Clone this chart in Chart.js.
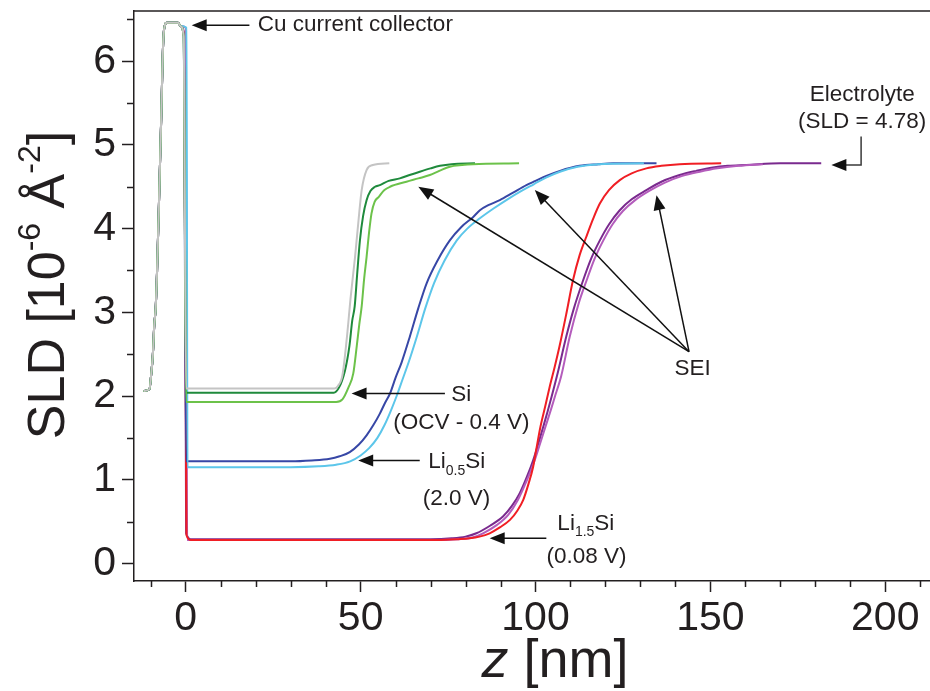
<!DOCTYPE html>
<html>
<head>
<meta charset="utf-8">
<title>SLD profiles</title>
<script src="https://cdn.jsdelivr.net/npm/chart.js@4.4.1/dist/chart.umd.min.js"></script>
<style>
    html, body { margin: 0; padding: 0; background: #fff; }
    #box { width: 930px; height: 691px; }
</style>
</head>
<body>
<div id="box"><canvas id="appChart"></canvas></div>
<script>
// DATA (z in nm, SLD in 10^-6 A^-2)
// copper current collector, shared by every profile
const cuZ = [-12.1, -10.4, -9.9, -9.4, -9.0, -8.6, -8.2, -7.6, -7.0, -6.6, -6.2, -5.4, -2.2, -1.5];
const cuSld = [2.06, 2.08, 2.25, 2.5, 2.85, 3.05, 3.5, 4.4, 5.35, 6.05, 6.38, 6.46, 6.46, 6.42];

// Si (OCV)
const siOcvZ = [-0.6, 0.1, 42.5, 43.5, 44.8, 46.0, 47.2, 48.4, 49.4, 50.3, 51.7, 53.5, 58.2];
const siOcvSld = [6.3, 2.09, 2.09, 2.12, 2.25, 2.67, 3.2, 3.66, 4.1, 4.46, 4.70, 4.76, 4.78];
// Si (0.4 V), dark green
const si04aZ = [-0.6, 0.1, 42.3, 43.8, 45.5, 46.8, 47.6, 48.3, 49.0, 49.8, 50.7, 51.7, 52.8, 54.1, 55.5, 58.0, 61.2, 64.0, 66.9, 70.0, 72.7, 76.0, 82.7];
const si04aSld = [6.3, 2.04, 2.04, 2.1, 2.3, 2.6, 2.9, 3.07, 3.45, 3.86, 4.15, 4.34, 4.45, 4.50, 4.52, 4.57, 4.60, 4.64, 4.68, 4.72, 4.75, 4.77, 4.78];
// Si (0.4 V), light green
const si04bZ = [-0.6, 0.1, 43.0, 44.8, 46.5, 47.9, 48.9, 49.6, 50.3, 51.0, 51.7, 52.4, 53.1, 54.0, 55.2, 56.8, 58.4, 63.1, 66.5, 69.8, 72.5, 75.5, 79.0, 82.2, 95.3];
const si04bSld = [6.3, 1.93, 1.93, 1.96, 2.1, 2.27, 2.6, 2.85, 3.07, 3.4, 3.66, 3.95, 4.18, 4.32, 4.38, 4.46, 4.50, 4.56, 4.60, 4.64, 4.69, 4.74, 4.76, 4.77, 4.78];
// Li0.5Si (2.0 V), dark blue
const li05aZ = [-0.6, 0.1, 30.0, 36.0, 41.2, 44.0, 46.9, 49.5, 51.7, 53.6, 55.5, 57.0, 58.4, 60.0, 61.7, 64.0, 66.5, 68.9, 72.0, 75.5, 78.8, 82.2, 84.1, 86.5, 89.8, 93.6, 97.4, 100.0, 103.1, 107.0, 112.6, 118.0, 122.2, 134.6];
const li05aSld = [6.3, 1.22, 1.22, 1.23, 1.25, 1.28, 1.33, 1.42, 1.53, 1.65, 1.79, 1.92, 2.03, 2.22, 2.4, 2.7, 3.05, 3.35, 3.62, 3.86, 4.02, 4.14, 4.22, 4.28, 4.34, 4.43, 4.52, 4.57, 4.63, 4.69, 4.75, 4.77, 4.78, 4.78];
// Li0.5Si (2.0 V), light blue
const li05bZ = [0.2, 0.5, 30.0, 38.0, 43.0, 47.0, 50.0, 52.5, 54.8, 56.8, 58.6, 60.3, 62.0, 63.7, 66.0, 68.5, 71.0, 74.0, 77.5, 80.5, 84.0, 88.0, 92.0, 96.0, 99.5, 103.0, 107.0, 112.0, 118.0, 131.0];
const li05bSld = [6.4, 1.15, 1.15, 1.16, 1.18, 1.22, 1.29, 1.38, 1.5, 1.65, 1.82, 2.0, 2.2, 2.4, 2.7, 3.05, 3.35, 3.62, 3.86, 4.0, 4.12, 4.24, 4.35, 4.45, 4.53, 4.61, 4.68, 4.74, 4.77, 4.78];
// Li1.5Si (0.08 V), red
const li15aZ = [-0.5, 0.2, 1.5, 72.0, 78.0, 81.2, 84.0, 86.9, 89.8, 92.7, 94.8, 96.5, 98.0, 99.3, 100.3, 101.4, 102.8, 104.0, 105.5, 106.9, 108.8, 110.7, 112.6, 114.5, 116.5, 118.4, 121.0, 124.1, 127.5, 131.7, 136.0, 141.2, 153.1];
const li15aSld = [6.3, 0.34, 0.28, 0.28, 0.29, 0.30, 0.32, 0.36, 0.43, 0.52, 0.63, 0.76, 0.95, 1.15, 1.38, 1.63, 1.88, 2.1, 2.35, 2.6, 2.98, 3.38, 3.68, 3.90, 4.12, 4.30, 4.46, 4.58, 4.66, 4.72, 4.75, 4.77, 4.78];
// Li1.5Si (0.08 V), light purple
const li15bZ = [0.0, 0.4, 70.0, 78.0, 82.0, 85.0, 89.0, 92.2, 95.0, 97.3, 99.5, 101.3, 102.9, 104.5, 105.6, 107.3, 109.8, 112.3, 114.6, 117.0, 119.4, 122.0, 125.0, 128.5, 132.5, 137.0, 142.0, 147.0, 152.0, 158.0, 165.0];
const li15bSld = [6.4, 0.28, 0.28, 0.29, 0.31, 0.36, 0.46, 0.58, 0.76, 0.97, 1.2, 1.43, 1.64, 1.85, 2.0, 2.23, 2.71, 3.1, 3.38, 3.65, 3.86, 4.05, 4.21, 4.34, 4.45, 4.55, 4.63, 4.68, 4.72, 4.75, 4.77];
// Li1.5Si (0.08 V), purple
const li15cZ = [-0.4, 0.1, 1.7, 70.0, 76.0, 80.0, 83.1, 87.0, 90.7, 93.3, 95.5, 97.5, 99.3, 100.8, 102.2, 103.5, 104.6, 106.2, 108.8, 111.0, 113.6, 116.0, 118.4, 121.0, 124.1, 127.5, 131.7, 136.0, 141.2, 146.0, 150.7, 155.0, 160.3, 170.0, 181.7];
const li15cSld = [6.3, 0.36, 0.29, 0.29, 0.30, 0.32, 0.36, 0.45, 0.56, 0.69, 0.84, 1.03, 1.23, 1.43, 1.63, 1.82, 1.99, 2.25, 2.71, 3.05, 3.38, 3.65, 3.86, 4.05, 4.22, 4.35, 4.46, 4.56, 4.64, 4.69, 4.73, 4.75, 4.76, 4.78, 4.78];

// axes
const xMin = -14.8, xMax = 212.8, xStep = 10, xLabelEvery = 50;
const yMin = -0.21, yMax = 6.6, yStep = 0.5, yLabelEvery = 1;

// annotations (data coordinates)
const arrows = [
    {path: [[18.2, 6.43], [1.7, 6.43]]},
    {path: [[74.1, 2.03], [47.4, 2.03]]},
    {path: [[66.9, 1.23], [49.3, 1.23]]},
    {path: [[103.1, 0.30], [86.9, 0.30]]},
    {path: [[143.9, 2.53], [66.5, 4.50]]},
    {path: [[143.9, 2.53], [99.8, 4.46]]},
    {path: [[143.9, 2.53], [134.6, 4.40]]},
    {path: [[193.1, 5.10], [193.1, 4.76], [184.6, 4.76]], color: '#3a3a3a'},
];
const notes = [
    {parts: [{t: 'Cu current collector'}], at: [20.6, 6.43], align: 'left'},
    {parts: [{t: 'Si'}], at: [78.8, 2.02]},
    {parts: [{t: '(OCV - 0.4 V)'}], at: [78.8, 1.68]},
    {parts: [{t: 'Li'}, {t: '0.5', sub: true}, {t: 'Si'}], at: [77.5, 1.21]},
    {parts: [{t: '(2.0 V)'}], at: [77.4, 0.77]},
    {parts: [{t: 'Li'}, {t: '1.5', sub: true}, {t: 'Si'}], at: [114.4, 0.47]},
    {parts: [{t: '(0.08 V)'}], at: [114.6, 0.075]},
    {parts: [{t: 'SEI'}], at: [144.9, 2.33]},
    {parts: [{t: 'Electrolyte'}], at: [193.4, 5.60]},
    {parts: [{t: '(SLD = 4.78)'}], at: [193.4, 5.28]},
];

// STYLE
const FONT = '"Liberation Sans", Arial, Helvetica, sans-serif';
const INK = '#231f20';

// HELPERS
function profile(z, sld) {
    const xs = cuZ.concat(z);
    const ys = cuSld.concat(sld);
    return xs.map((x, i) => ({x, y: ys[i]}));
}

function line(label, z, sld, color) {
    return {
        label,
        data: profile(z, sld),
        borderColor: color,
        borderWidth: 2,
        pointRadius: 0,
        fill: false,
        cubicInterpolationMode: 'monotone',
    };
}

/** Draw text made of plain / sub / sup / italic parts. */
function drawRich(ctx, parts, x, y, size, align) {
    const fontOf = (p) => {
        const s = (p.sub || p.sup) ? Math.round(size * 0.62) : size;
        return `${p.italic ? 'italic ' : ''}${s}px ${FONT}`;
    };
    let total = 0;
    const widths = parts.map((p) => {
        ctx.font = fontOf(p);
        const w = ctx.measureText(p.t).width;
        total += w;
        return w;
    });
    let cx = (align === 'left') ? x : x - total / 2;
    ctx.textAlign = 'left';
    ctx.textBaseline = 'middle';
    parts.forEach((p, i) => {
        ctx.font = fontOf(p);
        let dy = 0;
        if (p.sub) dy = size * 0.38;
        if (p.sup) dy = -size * 0.36;
        ctx.fillText(p.t, cx, y + dy);
        cx += widths[i];
    });
}

function drawArrow(ctx, pts, color) {
    const n = pts.length;
    const [tx, ty] = pts[n - 1];
    const [px, py] = pts[n - 2];
    const ang = Math.atan2(ty - py, tx - px);
    const head = 15, half = 6;
    ctx.save();
    ctx.strokeStyle = color;
    ctx.fillStyle = '#111';
    ctx.lineWidth = 1.5;
    ctx.beginPath();
    ctx.moveTo(pts[0][0], pts[0][1]);
    for (let i = 1; i < n - 1; i++) ctx.lineTo(pts[i][0], pts[i][1]);
    ctx.lineTo(tx - Math.cos(ang) * head * 0.8, ty - Math.sin(ang) * head * 0.8);
    ctx.stroke();
    ctx.beginPath();
    ctx.moveTo(tx, ty);
    ctx.lineTo(tx - Math.cos(ang) * head - Math.sin(ang) * half, ty - Math.sin(ang) * head + Math.cos(ang) * half);
    ctx.lineTo(tx - Math.cos(ang) * head + Math.sin(ang) * half, ty - Math.sin(ang) * head - Math.cos(ang) * half);
    ctx.closePath();
    ctx.fill();
    ctx.restore();
}

// PLUGINS
const decorPlugin = {
    id: 'decor',
    afterDraw(chart) {
        const {ctx, chartArea: a, scales: {x, y}} = chart;
        ctx.save();
        ctx.strokeStyle = INK;
        ctx.lineWidth = 1.5;
        // top frame
        ctx.beginPath();
        ctx.moveTo(a.left, a.top);
        ctx.lineTo(a.right, a.top);
        ctx.stroke();
        // minor ticks
        ctx.beginPath();
        x.ticks.forEach((t) => {
            if (Math.abs(t.value % xLabelEvery) < 1e-6) return;
            const px = Math.round(x.getPixelForValue(t.value)) + 0.5;
            ctx.moveTo(px, a.bottom);
            ctx.lineTo(px, a.bottom + 6);
        });
        y.ticks.forEach((t) => {
            if (Math.abs(t.value % yLabelEvery) < 1e-6) return;
            const py = Math.round(y.getPixelForValue(t.value)) + 0.5;
            ctx.moveTo(a.left - 7, py);
            ctx.lineTo(a.left, py);
        });
        ctx.stroke();
        // arrows
        arrows.forEach((ar) => {
            const pts = ar.path.map(([vx, vy]) => [x.getPixelForValue(vx), y.getPixelForValue(vy)]);
            drawArrow(ctx, pts, ar.color || '#111');
        });
        // notes
        ctx.fillStyle = INK;
        notes.forEach((n) => {
            drawRich(ctx, n.parts, x.getPixelForValue(n.at[0]), y.getPixelForValue(n.at[1]), 22.5, n.align);
        });
        // axis titles
        ctx.save();
        ctx.translate(a.left - 84, (a.top + a.bottom) / 2 - 11);
        ctx.rotate(-Math.PI / 2);
        drawRich(ctx, [{t: 'SLD [10'}, {t: '-6', sup: true}, {t: ' Å'}, {t: '-2', sup: true}, {t: ']'}], 0, 0, 52);
        ctx.restore();
        drawRich(ctx, [{t: 'z', italic: true}, {t: ' [nm]'}], 555, a.bottom + 81, 54);
        ctx.restore();
    }
};

// MAIN
Chart.defaults.font.family = FONT;
Chart.defaults.color = INK;

const datasets = [
    line('Si OCV', siOcvZ, siOcvSld, '#c4c4c4'),
    line('Si 0.4 V (a)', si04bZ, si04bSld, '#6cc24a'),
    line('Si 0.4 V (b)', si04aZ, si04aSld, '#1f8a3c'),
    line('Li0.5Si (b)', li05bZ, li05bSld, '#5cc6ea'),
    line('Li0.5Si (a)', li05aZ, li05aSld, '#3747a6'),
    line('Li1.5Si (a)', li15aZ, li15aSld, '#f01e24'),
    line('Li1.5Si (b)', li15bZ, li15bSld, '#b45cbc'),
    line('Li1.5Si (c)', li15cZ, li15cSld, '#7a2a8e'),
];

new Chart(document.getElementById('appChart'), {
    type: 'line',
    data: {datasets},
    options: {
        responsive: true,
        maintainAspectRatio: false,
        animation: false,
        layout: {padding: {left: 0, top: 11, right: 0, bottom: 0}},
        plugins: {legend: {display: false}, tooltip: {enabled: false}},
        scales: {
            x: {
                type: 'linear',
                min: xMin,
                max: xMax,
                afterFit: (s) => {
                    s.height = 110;
                    s.paddingLeft = 0;
                    s.paddingRight = 0;
                },
                border: {color: INK, width: 1.5},
                grid: {
                    drawOnChartArea: false,
                    tickLength: 11,
                    tickWidth: 1.5,
                    tickColor: (c) => (c.tick && Math.abs(c.tick.value % xLabelEvery) < 1e-6) ? INK : 'transparent',
                },
                ticks: {
                    stepSize: xStep,
                    includeBounds: false,
                    autoSkip: false,
                    maxRotation: 0,
                    padding: 2,
                    font: {size: 41},
                    callback: (v) => (Math.abs(v % xLabelEvery) < 1e-6 ? v : ''),
                },
            },
            y: {
                type: 'linear',
                min: yMin,
                max: yMax,
                afterFit: (s) => {
                    s.width = 134;
                    s.paddingTop = 0;
                    s.paddingBottom = 0;
                },
                border: {color: INK, width: 1.5},
                grid: {
                    drawOnChartArea: false,
                    tickLength: 12,
                    tickWidth: 1.5,
                    tickColor: (c) => (c.tick && Math.abs(c.tick.value % yLabelEvery) < 1e-6) ? INK : 'transparent',
                },
                ticks: {
                    stepSize: yStep,
                    includeBounds: false,
                    autoSkip: false,
                    padding: 6,
                    font: {size: 41},
                    callback: (v) => (Math.abs(v % yLabelEvery) < 1e-6 ? v : ''),
                },
            },
        },
    },
    plugins: [decorPlugin],
});
</script>
</body>
</html>
